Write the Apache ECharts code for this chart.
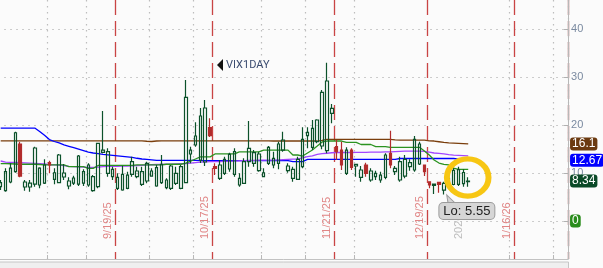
<!DOCTYPE html>
<html><head><meta charset="utf-8">
<script src="https://cdn.jsdelivr.net/npm/echarts@6/dist/echarts.min.js"></script>
<style>html,body{margin:0;padding:0;background:#fafafa;}#c{width:603px;height:268px;}</style>
</head><body><div id="c"></div>
<script>
// ---- categories (trading days, incl. future slots) ----
const categories = [
'8/18/25','8/19/25','8/20/25','8/21/25','8/22/25','8/25/25','8/26/25','8/27/25','8/28/25','8/29/25',
'9/2/25','9/3/25','9/4/25','9/5/25','9/8/25','9/9/25','9/10/25','9/11/25','9/12/25',
'9/15/25','9/16/25','9/17/25','9/18/25','9/19/25','9/22/25','9/23/25','9/24/25','9/25/25','9/26/25',
'9/29/25','9/30/25','10/1/25','10/2/25','10/3/25','10/6/25','10/7/25','10/8/25','10/9/25','10/10/25',
'10/13/25','10/14/25','10/15/25','10/16/25','10/17/25','10/20/25','10/21/25','10/22/25','10/23/25','10/24/25',
'10/27/25','10/28/25','10/29/25','10/30/25','10/31/25','11/3/25','11/4/25','11/5/25','11/6/25','11/7/25',
'11/10/25','11/11/25','11/12/25','11/13/25','11/14/25','11/17/25','11/18/25','11/19/25','11/20/25','11/21/25',
'11/24/25','11/25/25','11/26/25','11/28/25','12/1/25','12/2/25','12/3/25','12/4/25','12/5/25',
'12/8/25','12/9/25','12/10/25','12/11/25','12/12/25','12/15/25','12/16/25','12/17/25','12/18/25','12/19/25',
'12/22/25','12/23/25','12/24/25','12/26/25','12/29/25','12/30/25','12/31/25','1/2/26',
'1/5/26','1/6/26','1/7/26','1/8/26','1/9/26','1/12/26','1/13/26','1/14/26','1/15/26','1/16/26',
'1/20/26','1/21/26','1/22/26','1/23/26','1/26/26','1/27/26','1/28/26','1/29/26','1/30/26','2/2/26','2/3/26'];

// ---- VIX1DAY daily candles ----
const opens = [7.16,6.33,8.14,10.29,16.08,7.1,7.1,7.72,7.52,7.93,12.17,8.71,8.0,9.19,7.31,7.93,7.72,7.93,7.52,6.33,
7.16,14.34,9.96,9.25,6.83,6.47,6.83,9.75,9.25,7.66,8.35,9.39,7.31,8.0,6.95,6.83,7.87,6.83,8.0,13.99,
15.87,12.73,12.32,19.48,11.34,8.91,9.96,10.86,9.75,7.52,7.87,12.38,12.05,10.5,9.25,12.05,11.69,12.05,14.82,10.5,
8.91,8.71,11.34,17.81,15.39,16.56,15.66,14.68,22.48,15.51,14.82,9.96,14.82,11.48,9.12,11.69,8.56,9.25,8.56,9.12,
14.13,10.29,8.56,9.39,11.34,10.65,11.9,11.69,8.2,7.45,8.08,6.43,7.16,7.62,7.66,7.79,8.2];
const closes = [8.0,10.29,11.06,18.43,9.39,8.14,7.93,15.24,11.06,11.69,11.69,10.08,13.78,10.02,8.35,8.98,13.57,10.29,11.69,9.25,
16.22,14.82,14.47,10.79,9.12,9.75,9.6,12.38,10.44,10.29,12.05,10.44,11.13,11.84,8.56,11.48,9.96,11.34,25.82,14.82,
17.75,21.92,23.59,17.81,11.0,11.69,12.88,13.92,14.47,8.91,12.38,15.18,14.26,13.99,10.08,15.39,13.09,16.08,16.91,11.48,
10.79,12.88,17.06,18.52,19.35,21.09,26.87,29.23,23.53,14.47,11.69,14.82,11.21,11.84,10.65,9.96,10.44,9.96,9.6,13.78,
11.69,11.0,12.38,12.88,12.17,17.06,16.08,10.29,7.52,7.72,7.66,7.87,8.91,10.58,10.71,10.13,8.34];
const lows = [6.47,6.12,7.87,10.08,9.12,6.33,6.12,7.16,6.83,7.72,9.96,7.66,7.87,8.56,6.62,7.52,7.31,7.31,7.16,6.12,
6.83,14.13,9.25,8.56,6.47,6.33,6.62,9.25,8.91,7.31,7.87,9.25,7.16,7.72,6.62,6.47,7.52,6.62,7.87,12.05,
15.5,12.11,11.48,17.54,9.6,8.56,9.6,10.29,9.25,7.16,7.72,11.34,11.34,10.29,9.12,11.69,11.0,10.79,14.47,10.08,
8.2,8.56,11.0,15.18,14.82,16.22,14.97,14.13,20.4,12.73,10.65,9.6,10.65,9.25,8.2,9.25,8.2,8.56,8.0,8.71,
11.0,9.6,8.2,8.91,10.5,10.29,11.69,9.39,6.83,5.62,5.91,5.55,6.83,7.45,7.31,7.16,7.16];
const highs = [8.56,11.0,12.05,18.64,16.56,8.56,8.56,15.5,11.2,12.88,12.59,11.0,13.99,11.9,9.12,9.46,13.78,10.79,12.05,9.6,
16.35,22.96,15.18,11.34,9.96,11.55,10.29,13.42,11.34,11.34,12.38,11.0,11.69,13.78,8.91,11.69,11.34,11.69,29.44,15.5,
20.6,23.59,25.26,21.44,12.05,12.73,13.42,14.26,15.18,9.96,13.09,20.88,14.82,14.47,11.0,15.66,14.47,16.56,18.64,12.05,
11.34,13.42,19.56,19.56,21.09,21.23,27.35,33.05,24.43,16.91,16.56,15.39,15.18,11.9,11.48,12.17,11.0,10.5,10.29,14.13,
18.85,11.48,13.42,13.78,12.88,17.75,16.56,11.75,8.3,7.8,8.15,8.2,9.25,11.06,11.34,10.79,9.12];

// ---- study lines ----
const brownLine = [16.75,16.75,16.75,16.75,16.75,16.75,16.75,16.75,16.75,16.75,16.75,16.75,16.75,16.75,16.75,16.75,16.75,16.75,16.75,16.75,
16.75,16.75,16.75,16.75,16.75,16.75,16.75,16.75,16.75,16.75,16.65,16.6,16.7,16.75,16.75,16.75,16.75,16.75,16.75,16.75,
16.75,16.75,16.75,16.75,16.75,16.75,16.75,16.75,16.75,16.75,16.75,16.75,16.75,16.75,16.75,16.75,16.7,16.7,16.7,16.7,
16.7,16.7,16.7,16.7,16.7,16.7,16.85,17.05,17.05,17.05,17.05,17.05,17.05,17.05,17.05,17.05,17.05,17.05,17.05,17.05,
17.05,16.95,16.9,16.9,16.9,16.9,16.9,16.9,16.75,16.7,16.55,16.4,16.3,16.25,16.2,16.15,16.1];
const blueLine = [19.4,19.4,19.4,19.4,19.4,19.4,19.4,19.4,18.7,17.9,17.0,16.6,16.3,15.9,15.6,15.3,15.0,14.7,14.4,14.2,
14.05,13.9,13.8,13.7,13.6,13.5,13.4,13.3,13.1,12.95,12.85,12.75,12.65,12.65,12.65,12.65,12.65,12.65,12.65,12.65,
12.65,12.6,12.6,12.6,12.6,12.6,12.6,12.6,12.6,12.6,12.6,12.6,12.6,12.6,12.6,12.6,12.6,12.6,12.6,12.6,
12.4,12.4,12.4,12.85,12.85,12.85,12.85,12.85,12.85,12.85,12.85,12.85,12.85,12.85,12.85,12.85,12.85,12.85,12.85,12.85,
12.85,12.85,13.05,13.05,13.05,13.05,13.05,13.05,13.05,13.05,13.05,13.05,13.05,13.05,12.9,12.8,12.67];
const purpleLine = [12.53,12.3,12.25,12.25,12.2,12.15,12.1,12.05,12.0,11.9,11.75,11.7,11.65,11.55,11.4,11.35,11.3,11.25,11.2,11.2,
11.25,11.35,11.4,11.4,11.4,11.45,11.45,11.5,11.55,11.6,11.7,11.75,11.8,11.8,11.85,11.85,11.9,11.95,12.0,12.1,
12.2,12.3,12.35,12.4,12.4,12.4,12.45,12.45,12.5,12.55,12.6,12.65,12.65,12.7,12.7,12.7,12.7,12.75,12.8,12.85,
12.9,12.95,13.2,13.45,13.6,13.9,14.05,14.15,14.25,14.3,14.3,14.3,14.3,14.35,14.35,14.35,14.4,14.4,14.4,14.45,
14.45,14.5,14.55,14.6,14.6,14.6,14.6,14.55,14.4,14.2,14.1,14.0,13.85,13.75,13.7,13.65,13.6];
const greenLine = [12.0,12.0,11.95,11.9,11.85,11.85,11.85,11.85,11.8,11.7,11.7,11.7,11.7,11.7,11.35,11.35,11.35,11.35,11.0,11.0,
11.6,11.6,11.6,11.6,11.6,11.6,11.6,11.6,11.7,11.7,11.7,11.7,11.7,11.7,11.85,11.85,11.85,11.85,12.1,12.5,
12.95,13.4,13.4,13.4,14.0,14.0,14.0,14.0,14.0,14.45,14.45,14.45,14.45,14.45,14.8,14.8,14.8,14.8,14.8,14.8,
13.78,13.78,13.57,14.2,14.82,15.65,16.5,16.7,16.7,16.7,16.7,16.4,16.4,16.4,15.97,15.97,15.97,15.55,15.55,15.55,
15.39,15.39,15.39,15.39,15.39,15.39,15.39,14.6,13.78,12.73,12.1,11.84,11.7,11.06,10.8,10.8,10.8];
const zeroStudy = [0];

// ---- vertical markers / labels ----
const expiryDates = ['9/19/25','10/17/25','11/21/25','12/19/25','1/16/26'];
const gridDates = ['9/2/25','9/12/25','10/1/25','10/14/25','11/3/25','11/14/25','12/1/25','1/16/26','1/30/26'];
const yearStartDate = '1/2/26';
const yearLabel = '2026';
const symbolName = 'VIX1DAY';

const chart = echarts.init(document.getElementById('c'), null, {renderer: 'canvas'});
const candleData = opens.map((o, i) => [o, closes[i], lows[i], highs[i]]);
const last = a => a[a.length - 1];
const numFont = 'Liberation Sans';

function endTag(value, bg) {
  return {
    silent: true, symbol: ['none', 'none'],
    lineStyle: {color: 'rgba(0,0,0,0)', width: 0, type: 'solid'},
    label: {show: true, position: 'end', distance: 2, formatter: p => String(p.value),
      backgroundColor: bg, color: '#ffffff', borderRadius: 3, padding: [1, 2, 0, 2],
      fontSize: 12, fontFamily: numFont, lineHeight: 12},
    data: [{yAxis: value}]
  };
}

const baseX = {
  type: 'category', data: categories, gridIndex: 0, position: 'bottom', boundaryGap: true
};

const option = {
  backgroundColor: '#fbfbfb',
  animation: false,
  grid: {left: -1.74, right: 34.95, top: 0, bottom: 9, outerBoundsMode: 'none', containLabel: false},
  xAxis: [
    Object.assign({}, baseX, {
      axisLine: {show: true, onZero: false, lineStyle: {color: '#c2c2c2', width: 1}},
      axisTick: {show: true, inside: true, length: 4, interval: (i) => gridDates.includes(categories[i]), lineStyle: {color: '#b8b8b8'}},
      axisLabel: {show: false},
      splitLine: {show: true, interval: (i) => gridDates.includes(categories[i]), lineStyle: {color: '#bdbdbd', type: [1.5, 4.5], width: 1.2}}
    }),
    Object.assign({}, baseX, {
      axisLine: {show: false, onZero: false},
      axisTick: {show: false},
      splitLine: {show: true, interval: (i) => i > 0 && expiryDates.includes(categories[i - 1]), lineStyle: {color: '#c94444', type: [15, 6], width: 1.3}},
      axisLabel: {show: true, inside: true, rotate: 90, interval: 0, margin: 20, color: '#e08585', fontSize: 11, fontFamily: numFont,
        formatter: (v, i) => expiryDates.includes(categories[i + 1]) ? categories[i + 1] : ''}
    }),
    Object.assign({}, baseX, {
      axisLine: {show: false, onZero: false},
      axisTick: {show: false},
      splitLine: {show: true, interval: (i) => categories[i] === yearStartDate, lineStyle: {color: '#c4c4c4', type: [15, 6], width: 1.3}},
      axisLabel: {show: true, inside: true, rotate: 90, interval: 0, margin: 20, color: '#bdbdbd', fontSize: 11, fontFamily: numFont,
        formatter: (v, i) => categories[i + 1] === yearStartDate ? yearLabel : ''}
    })
  ],
  yAxis: {
    type: 'value', position: 'right', min: -7.93, max: 46.14, splitNumber: 5,
    axisLine: {show: true, lineStyle: {color: '#b8b8b8'}},
    axisTick: {show: true, inside: true, length: 4, lineStyle: {color: '#b0b0b0'}},
    axisLabel: {show: true, margin: 3, color: '#7a8aa0', fontSize: 11, fontFamily: numFont, showMinLabel: false, showMaxLabel: false},
    splitLine: {show: true, showMinLine: false, showMaxLine: false, lineStyle: {color: '#bdbdbd', type: [1.5, 4.5], width: 1.2}}
  },
  series: [
    {type: 'line', data: brownLine, clip: false, showSymbol: false, symbol: 'none', lineStyle: {color: '#7a3e0c', width: 1.3}, z: 2,
      markLine: endTag(last(brownLine), '#6b3a10')},
    {type: 'line', data: blueLine, clip: false, showSymbol: false, symbol: 'none', lineStyle: {color: '#0000ff', width: 1.3}, z: 2,
      markLine: endTag(last(blueLine), '#0000ff')},
    {type: 'line', data: purpleLine, showSymbol: false, symbol: 'none', lineStyle: {color: '#a346ff', width: 1.3}, z: 2},
    {type: 'line', data: greenLine, showSymbol: false, symbol: 'none', lineStyle: {color: '#2b9320', width: 1.3}, z: 2},
    {type: 'line', data: zeroStudy, clip: false, showSymbol: false, symbol: 'none', lineStyle: {opacity: 0}, z: 2,
      markLine: endTag(last(zeroStudy), '#2a8c1c')},
    {type: 'candlestick', data: candleData, clip: false, barWidth: 3, z: 3,
      itemStyle: {color: 'rgba(0,0,0,0)', color0: '#b22c2c', borderColor: '#0c522b', borderColor0: '#b22c2c', borderWidth: 1.2},
      markLine: endTag(last(closes), '#0b4a28'),
      markPoint: {
        silent: true,
        data: [
          {type: 'min', valueDim: 'lowest', symbol: 'path://M0,0 L1.3,8 L8.3,8 Z', symbolSize: [8.3, 8], symbolOffset: [7, 4.5],
            itemStyle: {color: '#d6d6d6', borderColor: '#9c9c9c', borderWidth: 1}, label: {show: false}},
          {type: 'min', valueDim: 'lowest', symbol: 'rect', symbolSize: 0.1, itemStyle: {color: 'rgba(0,0,0,0)'},
            label: {show: true, position: 'inside', offset: [23, 16.5], formatter: p => 'Lo: ' + Number(p.value).toFixed(2),
              backgroundColor: '#d6d6d6', borderColor: '#9c9c9c', borderWidth: 1, borderRadius: 4, padding: [2, 4, 1, 4],
              color: '#222222', fontSize: 13, fontFamily: numFont}}
        ]
      }
    }
  ],
  graphic: [
    {type: 'polygon', shape: {points: [[217, 65], [223, 59], [223, 71]]}, style: {fill: '#111111'}, z: 10},
    {type: 'text', x: 226, y: 65, style: {text: symbolName, fill: '#3b4c70', font: '11px Roboto', verticalAlign: 'middle'}, z: 10},
    {type: 'circle', x: 467.7, y: 177.5, scaleX: 1.12, shape: {cx: 0, cy: 0, r: 18.6}, style: {fill: 'none', stroke: '#f7c613', lineWidth: 5.3}, z: 20},
    {type: 'rect', shape: {x: -1, y: 262, width: 569.5, height: 8}, style: {fill: '#efefef', stroke: '#c6c6c6', lineWidth: 1}, z: 1}
  ]
};
chart.setOption(option);
</script></body></html>
